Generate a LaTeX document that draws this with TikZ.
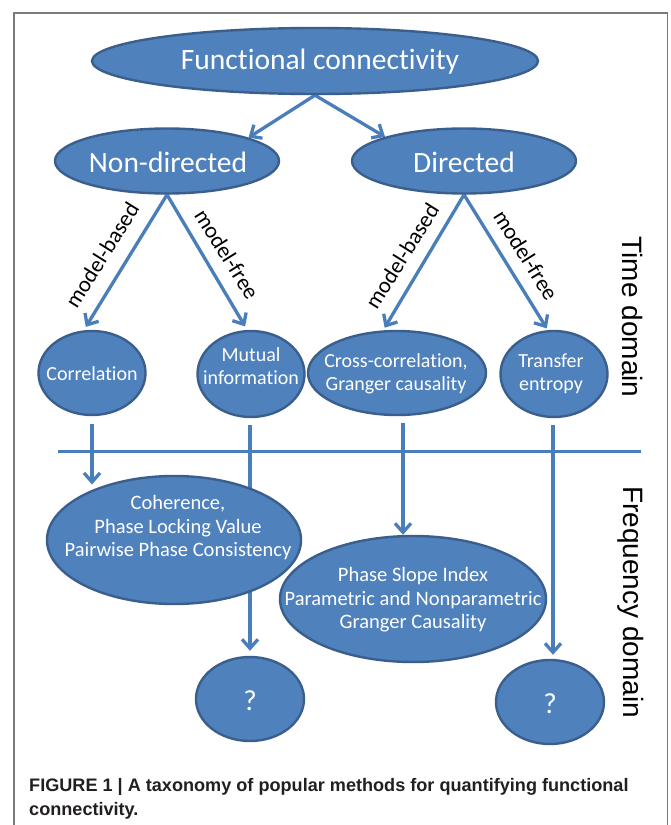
\documentclass[tikz,border=0pt]{standalone}
\usepackage{fontspec}
\setmainfont{Carlito}[Ligatures=NoCommon]
\newfontfamily\domfont{Liberation Sans}
\usetikzlibrary{shapes.geometric,arrows.meta,backgrounds}
\definecolor{nodefill}{HTML}{4F81BD}
\definecolor{nodeedge}{HTML}{3A5F8D}
\definecolor{arrowc}{HTML}{4A7EBB}
\definecolor{framec}{HTML}{7A7A7A}
\definecolor{capc}{HTML}{231F20}
\newcommand\fsTop{\fontsize{29.5}{33}\selectfont}
\newcommand\fsMid{\fontsize{20}{23}\selectfont}
\newcommand\fsFreq{\fontsize{20.5}{23.5}\selectfont}
\newcommand\fsQ{\fontsize{29}{32}\selectfont}
\newcommand\fsLbl{\fontsize{22.5}{25}\selectfont}
\begin{document}
\begin{tikzpicture}[x=1pt,y=-1pt,
  blob/.style={ellipse, draw=nodeedge, fill=nodefill, line width=2.4pt, inner sep=0pt},
  txt/.style={text=white, align=center, inner sep=0pt},
  arr/.style={draw=arrowc, line width=3.3pt, -{Straight Barb[length=9pt,width=16pt]}},
  hline/.style={draw=arrowc, line width=3pt},
  lbl/.style={text=black, font=\fsLbl, inner sep=0pt},
  dom/.style={text=black, font=\domfont\fontsize{28}{32}\selectfont, inner sep=0pt},
  capstyle/.style={text=capc, font=\domfont\bfseries\fontsize{18.1}{20}\selectfont, inner sep=0pt, anchor=base west}
]
\useasboundingbox (0,0) rectangle (670,825);

% frame
\draw[framec, line width=1.6pt] (14,830) -- (14,13) -- (667.5,13) -- (667.5,830);

% top level
\node[blob, minimum width=446, minimum height=66] (fc) at (315,61) {};
\node[txt, font=\fsTop] (fct) at (320,62) {Functional connectivity};
\node[blob, minimum width=224, minimum height=65] (nd) at (167,161) {};
\node[txt, font=\fsTop] (ndt) at (168,162) {Non-directed};
\node[blob, minimum width=224, minimum height=65] (di) at (464,161) {};
\node[txt, font=\fsTop] (dit) at (464,162) {Directed};

% time domain level
\node[blob, minimum width=107, minimum height=84] (corr) at (92,373) {};
\node[txt, font=\fsMid] (corrt) at (92,374) {Correlation};
\node[blob, minimum width=107, minimum height=86] (mut) at (251,374) {};
\node[txt, font=\fsMid] (mutt) at (251,366) {Mutual\\information};
\node[blob, minimum width=178, minimum height=84] (cross) at (397,373) {};
\node[txt, font=\fsMid] (crosst) at (396,374) {Cross-correlation,\\Granger causality};
\node[blob, minimum width=107, minimum height=86] (trans) at (554,374) {};
\node[txt, font=\fsMid] (transt) at (551,374) {Transfer\\entropy};

% frequency domain level
\node[blob, minimum width=254, minimum height=128] (coh) at (174,540) {};
\node[txt, font=\fsFreq] (coht) at (178,528) {Coherence,\\Phase Locking Value\\Pairwise Phase Consistency};
\node[blob, minimum width=266, minimum height=126] (psi) at (413,599) {};
\node[txt, font=\fsFreq] (psit) at (413,600) {Phase Slope Index\\Parametric and Nonparametric\\Granger Causality};
\node[blob, minimum width=108, minimum height=84] (q1) at (250,699) {};
\node[txt, font=\fsQ] (q1t) at (250,701) {?};
\node[blob, minimum width=108, minimum height=84] (q2) at (550,702) {};
\node[txt, font=\fsQ] (q2t) at (550,704) {?};

% edge labels
\node[lbl, rotate=58] (lb1) at (102,255) {model-based};
\node[lbl, rotate=-58] (lf1) at (227,254) {model-free};
\node[lbl, rotate=58] (lb2) at (402,256) {model-based};
\node[lbl, rotate=-58] (lf2) at (526,255) {model-free};

% domain labels
\node[dom, rotate=-90] (td) at (633,317) {Time domain};
\node[dom, rotate=-90] (fd) at (631,602) {Frequency domain};

% caption
\node[capstyle] (cap1) at (29,791) {FIGURE 1 | A taxonomy of popular methods for quantifying functional};
\node[capstyle] (cap2) at (29,815) {connectivity.};

\coordinate (hl) at (58,451);
\coordinate (hr) at (641,451);

\begin{scope}[on background layer]
\fill[white] (0,0) rectangle (670,825);
\draw[hline] (hl) -- (hr);
\draw[arr] (fc.south) -- (nd.16.5);
\draw[arr] (fc.south) -- (di.163.9);
\draw[arr, shorten >=4pt] (nd.south) -- (corr.101);
\draw[arr, shorten >=4pt] (nd.south) -- (mut.95);
\draw[arr, shorten >=3pt] (di.south) -- (cross.108);
\draw[arr, shorten >=2pt] (di.south) -- (trans.98);
\draw[arr, shorten <=8pt, shorten >=5pt] (corr.south) -- (corr.south |- coh.148.7);
\draw[arr, shorten <=7pt, shorten >=5pt] ([xshift=-1pt]mut.south) -- ([xshift=-1pt]mut.south |- q1.north);
\draw[arr, shorten <=7pt] ([xshift=6pt]cross.south) -- ([xshift=6pt]cross.south |- psi.north);
\draw[arr, shorten <=7pt, shorten >=4pt] ([xshift=-1pt]trans.south) -- ([xshift=-1pt]trans.south |- q2.north);
\end{scope}
\end{tikzpicture}
\end{document}
